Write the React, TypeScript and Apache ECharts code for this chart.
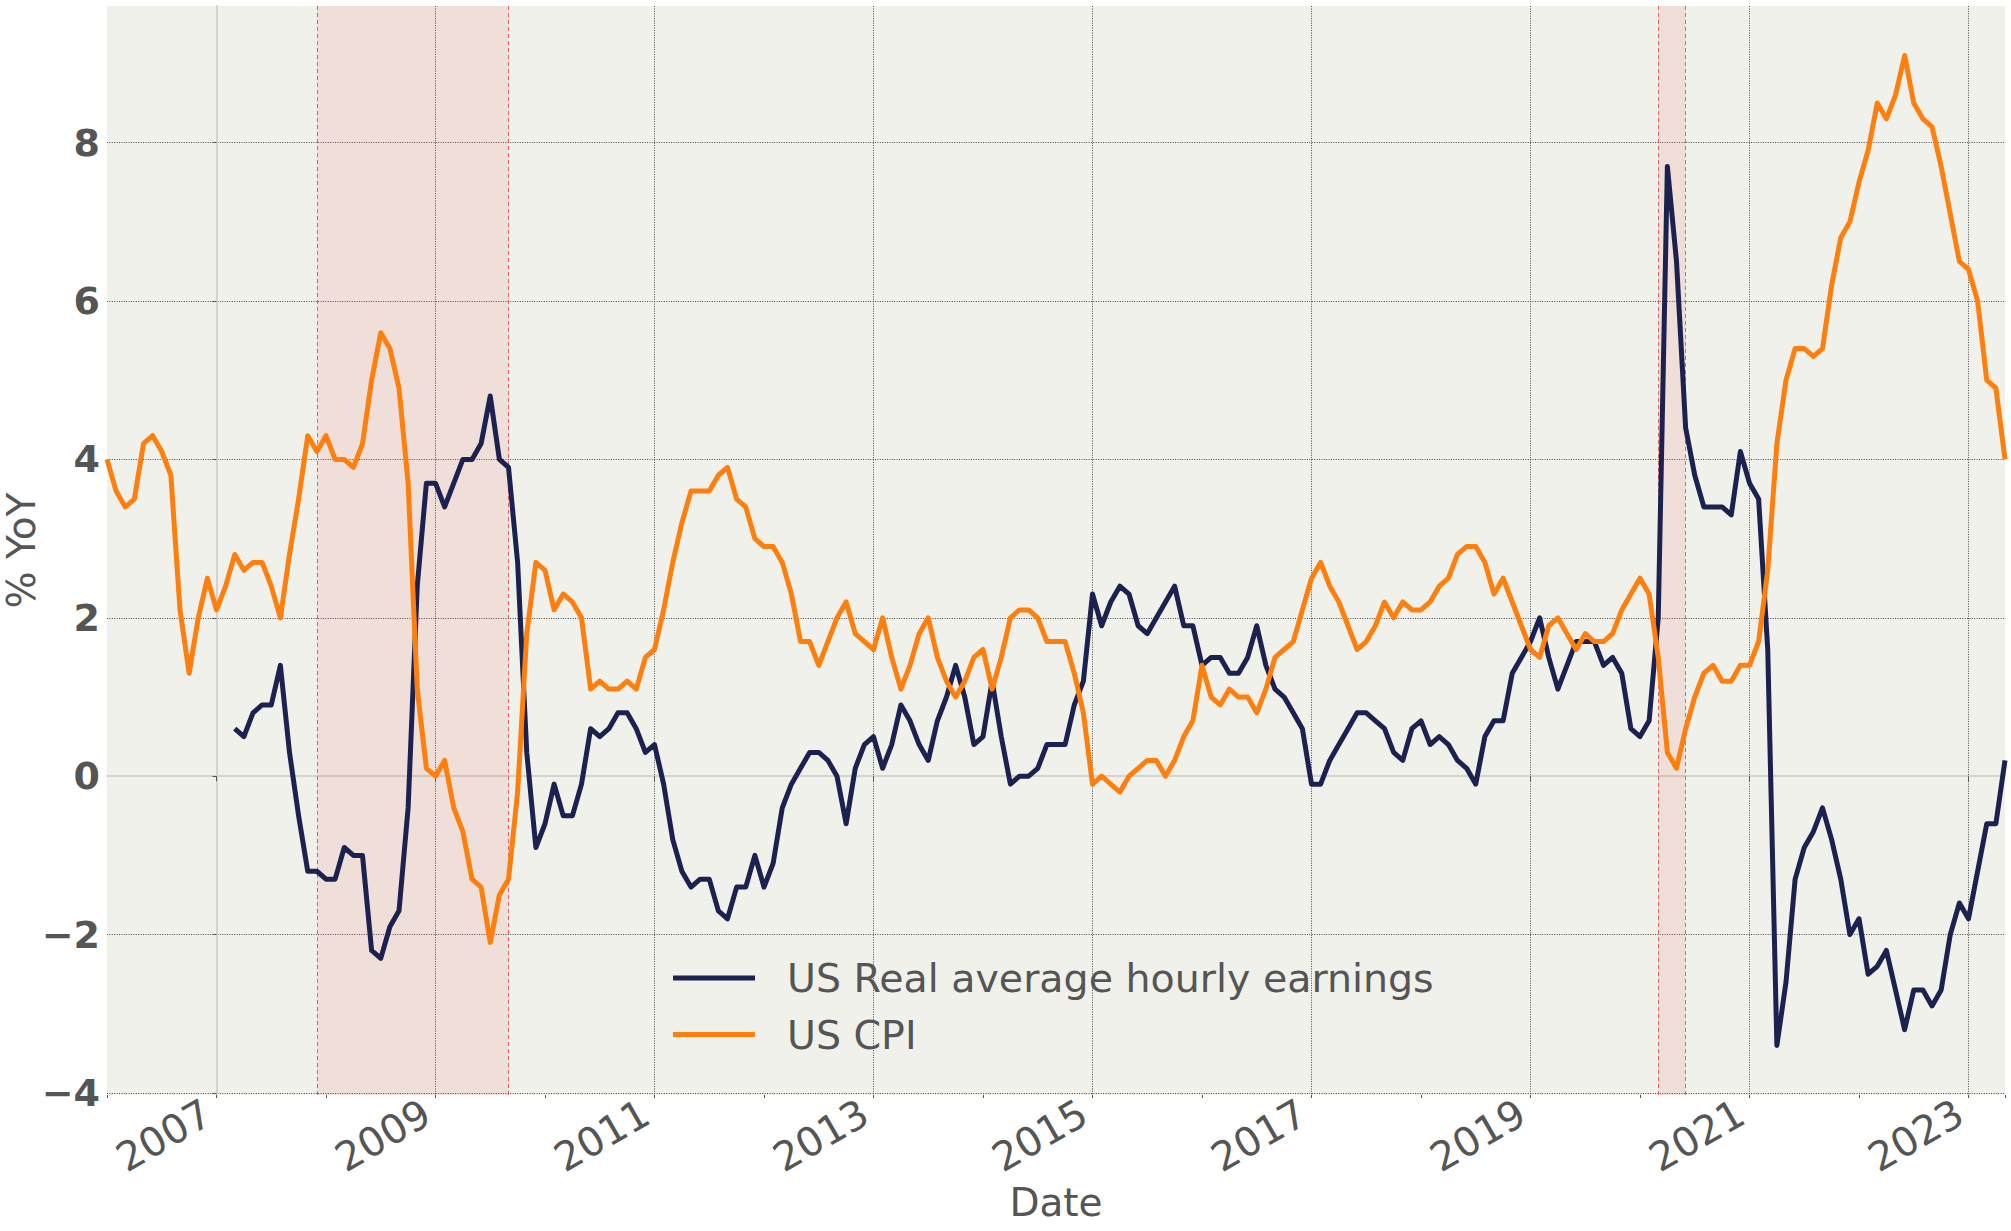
import React, { useEffect, useRef } from "react";
import * as echarts from "echarts";

// ---- data (monthly, % YoY) ----
const cpiStart = "2006-01";
const cpiYoY = [
  // 2006
  4.0, 3.6, 3.4, 3.5, 4.2, 4.3, 4.1, 3.8, 2.1, 1.3, 2.0, 2.5,
  // 2007
  2.1, 2.4, 2.8, 2.6, 2.7, 2.7, 2.4, 2.0, 2.8, 3.5, 4.3, 4.1,
  // 2008
  4.3, 4.0, 4.0, 3.9, 4.2, 5.0, 5.6, 5.4, 4.9, 3.7, 1.1, 0.1,
  // 2009
  0.0, 0.2, -0.4, -0.7, -1.3, -1.4, -2.1, -1.5, -1.3, -0.2, 1.8, 2.7,
  // 2010
  2.6, 2.1, 2.3, 2.2, 2.0, 1.1, 1.2, 1.1, 1.1, 1.2, 1.1, 1.5,
  // 2011
  1.6, 2.1, 2.7, 3.2, 3.6, 3.6, 3.6, 3.8, 3.9, 3.5, 3.4, 3.0,
  // 2012
  2.9, 2.9, 2.7, 2.3, 1.7, 1.7, 1.4, 1.7, 2.0, 2.2, 1.8, 1.7,
  // 2013
  1.6, 2.0, 1.5, 1.1, 1.4, 1.8, 2.0, 1.5, 1.2, 1.0, 1.2, 1.5,
  // 2014
  1.6, 1.1, 1.5, 2.0, 2.1, 2.1, 2.0, 1.7, 1.7, 1.7, 1.3, 0.8,
  // 2015
  -0.1, 0.0, -0.1, -0.2, 0.0, 0.1, 0.2, 0.2, 0.0, 0.2, 0.5, 0.7,
  // 2016
  1.4, 1.0, 0.9, 1.1, 1.0, 1.0, 0.8, 1.1, 1.5, 1.6, 1.7, 2.1,
  // 2017
  2.5, 2.7, 2.4, 2.2, 1.9, 1.6, 1.7, 1.9, 2.2, 2.0, 2.2, 2.1,
  // 2018
  2.1, 2.2, 2.4, 2.5, 2.8, 2.9, 2.9, 2.7, 2.3, 2.5, 2.2, 1.9,
  // 2019
  1.6, 1.5, 1.9, 2.0, 1.8, 1.6, 1.8, 1.7, 1.7, 1.8, 2.1, 2.3,
  // 2020
  2.5, 2.3, 1.5, 0.3, 0.1, 0.6, 1.0, 1.3, 1.4, 1.2, 1.2, 1.4,
  // 2021
  1.4, 1.7, 2.6, 4.2, 5.0, 5.4, 5.4, 5.3, 5.4, 6.2, 6.8, 7.0,
  // 2022
  7.5, 7.9, 8.5, 8.3, 8.6, 9.1, 8.5, 8.3, 8.2, 7.7, 7.1, 6.5,
  // 2023
  6.4, 6.0, 5.0, 4.9, 4.0,
];

const earningsStart = "2007-03";
const earningsYoY = [
  // 2007 (Mar-Dec)
  0.6, 0.5, 0.8, 0.9, 0.9, 1.4, 0.3, -0.5, -1.2, -1.2,
  // 2008
  -1.3, -1.3, -0.9, -1.0, -1.0, -2.2, -2.3, -1.9, -1.7, -0.4, 2.4, 3.7,
  // 2009
  3.7, 3.4, 3.7, 4.0, 4.0, 4.2, 4.8, 4.0, 3.9, 2.7, 0.3, -0.9,
  // 2010
  -0.6, -0.1, -0.5, -0.5, -0.1, 0.6, 0.5, 0.6, 0.8, 0.8, 0.6, 0.3,
  // 2011
  0.4, -0.1, -0.8, -1.2, -1.4, -1.3, -1.3, -1.7, -1.8, -1.4, -1.4, -1.0,
  // 2012
  -1.4, -1.1, -0.4, -0.1, 0.1, 0.3, 0.3, 0.2, 0.0, -0.6, 0.1, 0.4,
  // 2013
  0.5, 0.1, 0.4, 0.9, 0.7, 0.4, 0.2, 0.7, 1.0, 1.4, 1.0, 0.4,
  // 2014
  0.5, 1.2, 0.5, -0.1, 0.0, 0.0, 0.1, 0.4, 0.4, 0.4, 0.9, 1.2,
  // 2015
  2.3, 1.9, 2.2, 2.4, 2.3, 1.9, 1.8, 2.0, 2.2, 2.4, 1.9, 1.9,
  // 2016
  1.4, 1.5, 1.5, 1.3, 1.3, 1.5, 1.9, 1.4, 1.1, 1.0, 0.8, 0.6,
  // 2017
  -0.1, -0.1, 0.2, 0.4, 0.6, 0.8, 0.8, 0.7, 0.6, 0.3, 0.2, 0.6,
  // 2018
  0.7, 0.4, 0.5, 0.4, 0.2, 0.1, -0.1, 0.5, 0.7, 0.7, 1.3, 1.5,
  // 2019
  1.7, 2.0, 1.5, 1.1, 1.4, 1.7, 1.7, 1.7, 1.4, 1.5, 1.3, 0.6,
  // 2020
  0.5, 0.7, 2.0, 7.7, 6.5, 4.4, 3.8, 3.4, 3.4, 3.4, 3.3, 4.1,
  // 2021
  3.7, 3.5, 1.6, -3.4, -2.6, -1.3, -0.9, -0.7, -0.4, -0.8, -1.3, -2.0,
  // 2022
  -1.8, -2.5, -2.4, -2.2, -2.7, -3.2, -2.7, -2.7, -2.9, -2.7, -2.0, -1.6,
  // 2023
  -1.8, -1.2, -0.6, -0.6, 0.2,
];

const recessions = [
  ["2007-12", "2009-09"],
  ["2020-03", "2020-06"],
];

const xStart = "2006-01";
const xEnd = "2023-05";
const yearTicks = [2007, 2009, 2011, 2013, 2015, 2017, 2019, 2021, 2023];
const yTicks = [-4, -2, 0, 2, 4, 6, 8];
const yMin = -4.025;
const yMax = 9.725;

const seriesNames = ["US Real average hourly earnings", "US CPI"];
const seriesColors = ["#1c2250", "#ff7f0e"];

const FONT = "DejaVu Sans";
const TEXT = "#555555";

// months since Jan 2007
function monthIndex(ym: string): number {
  const [y, m] = ym.split("-").map(Number);
  return (y - 2007) * 12 + (m - 1);
}

function toSeries(start: string, values: number[]) {
  const s = monthIndex(start);
  return values.map((v, i) => [s + i, v]);
}

export default function App() {
  const ref = useRef<HTMLDivElement>(null);

  useEffect(() => {
    if (!ref.current) return;
    const chart = echarts.init(ref.current, undefined, { renderer: "svg" });

    const xMin = monthIndex(xStart);
    const xMax = monthIndex(xEnd);
    const xMajor = yearTicks.map((y) => monthIndex(y + "-01"));

    const gridLine = { color: "#4a4a4a", width: 1, type: [1, 1.4] as any };

    chart.setOption({
      animation: false,
      backgroundColor: "#ffffff",
      textStyle: { fontFamily: FONT },
      grid: {
        left: 107,
        top: 6,
        width: 1898,
        height: 1089,
        show: true,
        backgroundColor: "#f1f1ec",
        borderWidth: 0,
        containLabel: false,
        outerBoundsMode: "none",
      },
      legend: {
        data: seriesNames,
        orient: "vertical",
        left: 673,
        top: 955,
        padding: 0,
        icon: "rect",
        itemWidth: 82,
        itemHeight: 5,
        itemGap: 10.5,
        selectedMode: false,
        textStyle: {
          fontFamily: FONT,
          fontSize: 39.5,
          color: TEXT,
          lineHeight: 46,
          padding: [0, 0, 0, 27],
        },
      },
      xAxis: [
        {
          type: "value",
          min: xMin,
          max: xMax,
          position: "bottom",
          axisLine: { show: true, lineStyle: { color: "#d3d3d0", width: 2 } },
          axisTick: {
            show: true,
            length: 5,
            customValues: xMajor,
            lineStyle: { color: "#555555", width: 1 },
          },
          splitLine: {
            show: true,
            lineStyle: gridLine,
          },
          axisLabel: {
            customValues: xMajor,
            rotate: 30,
            margin: 10,
            padding: [0, 10, 0, 0],
            fontFamily: FONT,
            fontSize: 40,
            color: TEXT,
            formatter: (v: number) => String(Math.round(2007 + v / 12)),
          },
          name: "Date",
          nameLocation: "middle",
          nameGap: 107,
          nameMoveOverlap: false,
          nameTextStyle: {
            fontFamily: FONT,
            fontSize: 39,
            color: TEXT,
            verticalAlign: "middle",
          },
        },
        {
          type: "value",
          min: xMin,
          max: xMax,
          interval: 12,
          position: "bottom",
          axisLine: { show: false },
          axisTick: { show: true, length: 3, lineStyle: { color: "#555555", width: 1 } },
          axisLabel: { show: false },
          splitLine: { show: false },
        },
      ],
      yAxis: {
        type: "value",
        min: yMin,
        max: yMax,
        axisLine: { show: true, lineStyle: { color: "#d3d3d0", width: 2 } },
        axisTick: {
          show: true,
          length: 4,
          customValues: yTicks,
          lineStyle: { color: "#555555", width: 1 },
        },
        splitLine: {
          show: true,
          lineStyle: gridLine,
        },
        axisLabel: {
          customValues: yTicks,
          margin: 7,
          fontFamily: FONT,
          fontSize: 38,
          fontWeight: "bold",
          color: TEXT,
          formatter: (v: number) => {
            const r = Math.round(v);
            return r < 0 ? "\u2212" + Math.abs(r) : String(r);
          },
        },
        name: "% YoY",
        nameLocation: "middle",
        nameGap: 86,
        nameMoveOverlap: false,
        nameTextStyle: {
          fontFamily: FONT,
          fontSize: 39,
          lineHeight: 36,
          color: TEXT,
          verticalAlign: "middle",
        },
      },
      series: [
        {
          name: seriesNames[0],
          type: "line",
          xAxisIndex: 0,
          data: toSeries(earningsStart, earningsYoY),
          showSymbol: false,
          symbol: "none",
          color: seriesColors[0],
          lineStyle: { color: seriesColors[0], width: 5, join: "round" },
          z: 3,
          markArea: {
            silent: true,
            z: 1,
            itemStyle: { color: "rgba(235,70,40,0.1)", borderWidth: 0 },
            data: recessions.map(([s, e]) => [
              { xAxis: monthIndex(s) },
              { xAxis: monthIndex(e) },
            ]),
          },
          markLine: {
            silent: true,
            z: 1,
            symbol: ["none", "none"],
            label: { show: false },
            lineStyle: { color: "rgba(235,60,60,0.8)", width: 1, type: [4, 3] },
            data: recessions.flatMap(([s, e]) => [
              { xAxis: monthIndex(s) },
              { xAxis: monthIndex(e) },
            ]),
          },
        },
        {
          name: seriesNames[1],
          type: "line",
          xAxisIndex: 0,
          data: toSeries(cpiStart, cpiYoY),
          showSymbol: false,
          symbol: "none",
          color: seriesColors[1],
          lineStyle: { color: seriesColors[1], width: 5, join: "round" },
          z: 4,
        },
      ],
    });

    return () => {
      chart.dispose();
    };
  }, []);

  return (
    <div
      ref={ref}
      style={{ position: "absolute", left: 0, top: 0, width: 2011, height: 1231, background: "#fff" }}
    />
  );
}
